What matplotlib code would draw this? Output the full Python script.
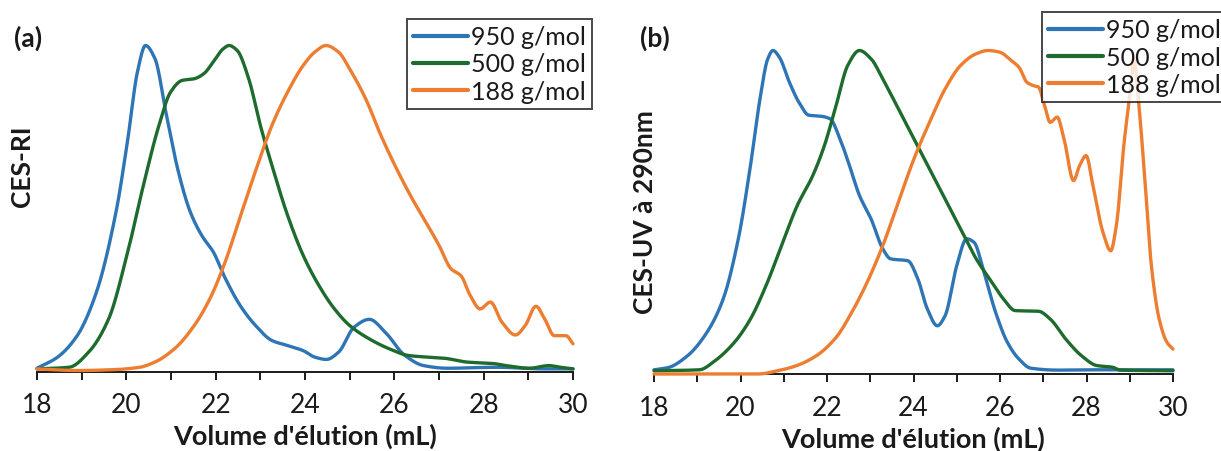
import matplotlib
matplotlib.use("Agg")
import matplotlib.pyplot as plt
import numpy as np

plt.rcParams['font.family'] = ['Lato', 'DejaVu Sans']

labels = ["950 g/mol", "500 g/mol", "188 g/mol"]
colors = ["#2E75B6", "#1E6B2E", "#ED7D31"]

# ---- Panel (a): CES-RI ----
a_blue_x = [18, 18.46, 18.9, 19.33, 19.77, 20.03, 20.25, 20.43, 20.64, 20.9, 21.17, 21.43, 21.69, 21.95,
            22.2, 22.56, 22.9, 23.26, 23.6, 23.96, 24.22, 24.48, 24.75, 25.1, 25.44, 25.8, 26.23, 26.66,
            27.19, 28.3, 29.37, 30]
a_blue_y = [0.01, 0.044, 0.11, 0.243, 0.49, 0.71, 0.92, 1.0, 0.96, 0.785, 0.61, 0.49, 0.417, 0.366,
            0.29, 0.2, 0.14, 0.095, 0.08, 0.064, 0.044, 0.037, 0.059, 0.136, 0.16, 0.12, 0.05, 0.018,
            0.01, 0.013, 0.008, 0.008]
a_green_x = [18, 18.72, 19.16, 19.6, 20.03, 20.38, 20.73, 20.99, 21.25, 21.52, 21.73, 21.95, 22.17, 22.3,
             22.48, 22.74, 23.0, 23.26, 23.61, 23.96, 24.31, 24.66, 25.0, 25.44, 25.88, 26.32, 26.75,
             27.1, 27.62, 28.24, 28.5, 29.02, 29.46, 29.72, 30]
a_green_y = [0.008, 0.013, 0.06, 0.16, 0.366, 0.57, 0.755, 0.857, 0.893, 0.898, 0.913, 0.95, 0.99, 1.0,
             0.985, 0.898, 0.755, 0.632, 0.479, 0.356, 0.264, 0.192, 0.141, 0.1, 0.07, 0.049, 0.044,
             0.041, 0.029, 0.024, 0.018, 0.01, 0.018, 0.013, 0.008]
a_orange_x = [18, 18.9, 19.77, 20.3, 20.64, 21.08, 21.52, 21.87, 22.21, 22.56, 22.91, 23.26, 23.61, 23.96,
              24.22, 24.47, 24.75, 25.0, 25.36, 25.7, 26.05, 26.4, 26.75, 27.0, 27.27, 27.49, 27.7, 27.92,
              28.15, 28.41, 28.71, 28.93, 29.17, 29.37, 29.58, 29.84, 30.0]
a_orange_y = [0.008, 0.003, 0.006, 0.013, 0.029, 0.07, 0.141, 0.223, 0.335, 0.479, 0.622, 0.755, 0.857, 0.939,
              0.98, 1.0, 0.98, 0.928, 0.836, 0.724, 0.622, 0.53, 0.448, 0.387, 0.315, 0.294, 0.233, 0.192,
              0.213, 0.151, 0.112, 0.141, 0.2, 0.16, 0.11, 0.11, 0.085]

# ---- Panel (b): CES-UV à 290nm ----
b_blue_x = [18, 18.33, 18.78, 19.23, 19.6, 19.95, 20.23, 20.45, 20.63, 20.75, 20.9, 21.13, 21.35, 21.58,
            21.85, 22.07, 22.3, 22.52, 22.75, 23.02, 23.29, 23.47, 23.87, 24.1, 24.32, 24.55, 24.73, 25.0,
            25.23, 25.4, 25.63, 25.9, 26.17, 26.44, 26.71, 27.34, 28.24, 30]
b_blue_y = [0.013, 0.02, 0.057, 0.13, 0.232, 0.418, 0.644, 0.85, 0.974, 1.0, 0.979, 0.902, 0.84, 0.8,
            0.797, 0.789, 0.727, 0.644, 0.552, 0.479, 0.387, 0.356, 0.35, 0.294, 0.201, 0.149, 0.18, 0.335,
            0.418, 0.407, 0.314, 0.19, 0.098, 0.046, 0.018, 0.012, 0.013, 0.013]
b_green_x = [18, 19.05, 19.41, 19.86, 20.23, 20.59, 20.95, 21.31, 21.67, 21.94, 22.21, 22.48, 22.75, 23.02,
             23.29, 23.65, 24.01, 24.37, 24.73, 25.09, 25.45, 25.81, 26.08, 26.35, 26.89, 27.16, 27.52,
             27.88, 28.24, 28.6, 28.78, 30]
b_green_y = [0.01, 0.013, 0.041, 0.098, 0.17, 0.273, 0.397, 0.52, 0.613, 0.706, 0.83, 0.954, 1.0, 0.974,
             0.912, 0.82, 0.727, 0.634, 0.541, 0.448, 0.356, 0.284, 0.232, 0.196, 0.194, 0.17, 0.108,
             0.057, 0.026, 0.021, 0.012, 0.01]
b_orange_x = [18, 20.4, 20.86, 21.3, 21.76, 22.21, 22.57, 22.93, 23.29, 23.65, 24.01, 24.37, 24.73, 25.09,
              25.45, 25.72, 25.99, 26.26, 26.44, 26.62, 26.76, 26.89, 27.03, 27.16, 27.32, 27.48, 27.7,
              27.84, 27.99, 28.15, 28.38, 28.56, 28.69, 28.87, 29.01, 29.1, 29.2, 29.36, 29.5, 29.68,
              29.86, 30]
b_orange_y = [0.0, 0.0, 0.01, 0.026, 0.057, 0.113, 0.19, 0.284, 0.397, 0.531, 0.665, 0.778, 0.881, 0.954,
              0.99, 1.0, 0.995, 0.969, 0.948, 0.902, 0.892, 0.887, 0.83, 0.778, 0.794, 0.727, 0.598,
              0.644, 0.675, 0.582, 0.438, 0.381, 0.459, 0.716, 0.871, 0.97, 0.85, 0.582, 0.335, 0.17,
              0.098, 0.077]

x_ticks = [18, 20, 22, 24, 26, 28, 30]
xlabel = "Volume d'élution (mL)"

W, H = 1221, 452
fig = plt.figure(figsize=(W / 100, H / 100), dpi=100)
TXT = '#1a1a1a'


def smooth(xs, ys):
    xs = np.asarray(xs, float)
    ys = np.asarray(ys, float)
    n = len(xs)
    h = np.diff(xs)
    d = np.diff(ys) / h
    m = np.zeros(n)
    m[0], m[-1] = d[0], d[-1]
    for i in range(1, n - 1):
        if d[i - 1] * d[i] <= 0:
            m[i] = 0
        else:
            w1 = 2 * h[i] + h[i - 1]
            w2 = h[i] + 2 * h[i - 1]
            m[i] = (w1 + w2) / (w1 / d[i - 1] + w2 / d[i])
    xf, yf = [], []
    for i in range(n - 1):
        t = np.linspace(0, 1, 20, endpoint=False)
        h00 = 2 * t**3 - 3 * t**2 + 1
        h10 = t**3 - 2 * t**2 + t
        h01 = -2 * t**3 + 3 * t**2
        h11 = t**3 - t**2
        xf.extend(xs[i] + t * h[i])
        yf.extend(h00 * ys[i] + h10 * h[i] * m[i] + h01 * ys[i + 1] + h11 * h[i] * m[i + 1])
    xf.append(xs[-1])
    yf.append(ys[-1])
    return np.array(xf), np.array(yf)


def make_panel(left_px, right_px, base_px, peak_px, series, ylabel, tag, tag_xy, leg_xy, ylabel_xy):
    ax = fig.add_axes([left_px / W, (H - base_px) / H, (right_px - left_px) / W, base_px / H])
    ymax = base_px / (base_px - peak_px)
    ax.set_xlim(18, 30)
    ax.set_ylim(0, ymax)
    lines = []
    for (xs, ys), lab, c in zip(series, labels, colors):
        sx, sy = smooth(xs, ys)
        ln, = ax.plot(sx, sy, color=c, lw=2.4, label=lab, clip_on=False, solid_capstyle='round')
        lines.append(ln)
    for s in ['left', 'right', 'top']:
        ax.spines[s].set_visible(False)
    ax.spines['bottom'].set_color(TXT)
    ax.spines['bottom'].set_linewidth(1.4)
    ax.spines['bottom'].set_zorder(0.5)
    ax.set_yticks([])
    ax.set_xticks(x_ticks)
    ax.set_xticks(range(18, 31), minor=True)
    ax.tick_params(axis='x', which='both', direction='out', length=6, width=1.4, color=TXT,
                   labelsize=19, labelcolor=TXT, pad=9)
    ax.set_xlabel(xlabel, fontsize=19.5, fontweight='bold', color=TXT, labelpad=4)
    fig.text(ylabel_xy[0] / W, 1 - ylabel_xy[1] / H, ylabel, rotation=90, fontsize=19,
             fontweight='bold', color=TXT, ha='center', va='center')
    fig.text(tag_xy[0] / W, 1 - tag_xy[1] / H, tag, fontsize=19, fontweight='bold', color=TXT,
             ha='left', va='center')
    leg = fig.legend(handles=lines, loc='upper left',
                     bbox_to_anchor=(leg_xy[0] / W, 1 - leg_xy[1] / H),
                     frameon=True, fancybox=False, fontsize=18, handlelength=2.2,
                     handletextpad=0.1, borderpad=0.25, labelspacing=0.17, borderaxespad=0,
                     handleheight=0.7)
    leg.get_frame().set_edgecolor(TXT)
    leg.get_frame().set_linewidth(1.4)
    for t in leg.get_texts():
        t.set_color(TXT)
    for l in leg.get_lines():
        l.set_linewidth(3.0)
    return ax


make_panel(37, 573, 372.5, 46.5,
           [(a_blue_x, a_blue_y), (a_green_x, a_green_y), (a_orange_x, a_orange_y)],
           "CES-RI", "(a)", (14, 38), (407, 20), (22, 166))
make_panel(654, 1173, 375, 51.5,
           [(b_blue_x, b_blue_y), (b_green_x, b_green_y), (b_orange_x, b_orange_y)],
           "CES-UV à 290nm", "(b)", (640, 38), (1042, 13), (645, 212))

fig.savefig("out.png", dpi=100)
